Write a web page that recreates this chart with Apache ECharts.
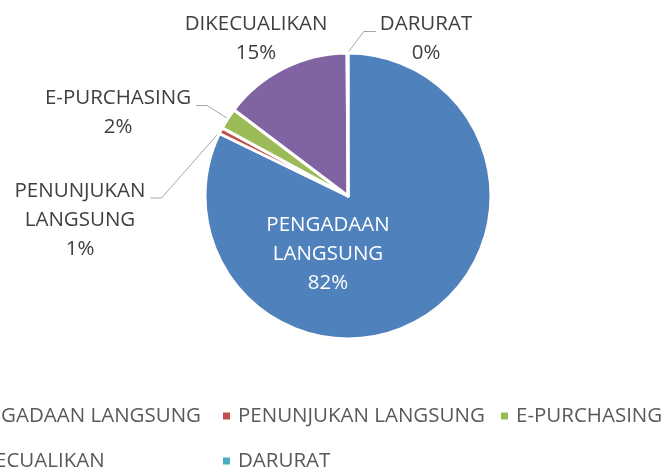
<!DOCTYPE html>
<html><head><meta charset="utf-8">
<script src="https://cdn.jsdelivr.net/npm/echarts@6/dist/echarts.min.js"></script>
<style>html,body{margin:0;padding:0;background:#fff}#c{width:665px;height:468px}</style>
</head><body><div id="c"></div>
<script>
const categories = ['PENGADAAN LANGSUNG', 'PENUNJUKAN LANGSUNG', 'E-PURCHASING', 'DIKECUALIKAN', 'DARURAT'];
const values = [82.2, 0.7, 2.4, 14.6, 0.1];
const colors = ['#4F81BD', '#C0504D', '#9BBB59', '#8064A2', '#4BACC6'];

const FONT = 'Open Sans';
const FS = 20.5;
const LH = 29;
// label block centres and which side the leader line attaches to
const labelPos = [[328, 254], [80, 220], [118, 113], [256, 39], [426, 39]];
const lineSide = [null, 'right', 'right', null, 'left'];

function textWidth(t) {
  const c = document.createElement('canvas').getContext('2d');
  c.font = FS + 'px "' + FONT + '"';
  return c.measureText(t).width;
}

const chart = echarts.init(document.getElementById('c'), null, {renderer: 'canvas'});

const legendCommon = {
  orient: 'horizontal', icon: 'rect', itemWidth: 9, itemHeight: 9, itemGap: 0, padding: 0,
  selectedMode: false,
  textStyle: {fontFamily: FONT, fontSize: FS, color: '#595959', lineHeight: 24, padding: [0, 0, 0, 2]}
};
const col1Left = 200 - textWidth(categories[0]) - 16;
const legends = [
  Object.assign({}, legendCommon, {data: [categories[0]], left: col1Left, top: 404}),
  Object.assign({}, legendCommon, {data: [categories[1]], left: 221, top: 404}),
  Object.assign({}, legendCommon, {data: [categories[2]], left: 499, top: 404}),
  Object.assign({}, legendCommon, {data: [categories[3]], left: col1Left, top: 449}),
  Object.assign({}, legendCommon, {data: [categories[4]], left: 221, top: 449})
];

chart.setOption({
  animation: false,
  color: colors,
  legend: legends,
  series: [{
    type: 'pie',
    center: [348, 196],
    radius: 143,
    startAngle: 90,
    clockwise: true,
    avoidLabelOverlap: false,
    itemStyle: {borderColor: '#fff', borderWidth: 3},
    label: {
      show: true, position: 'outside',
      fontFamily: FONT, fontSize: FS, color: '#404040', lineHeight: LH, align: 'center',
      formatter: p => p.name.replace(' ', '\n') + '\n' + Math.round(p.percent) + '%'
    },
    labelLine: {show: true, length: 10, length2: 12, lineStyle: {color: '#A6A6A6', width: 1}},
    labelLayout: function (params) {
      const i = params.dataIndex;
      const pos = labelPos[i];
      const out = {x: pos[0], y: pos[1], align: 'center', verticalAlign: 'middle'};
      const side = lineSide[i];
      const pts = params.labelLinePoints;
      if (side && pts && pts.length) {
        const w = params.labelRect.width, h = params.labelRect.height;
        const top = pos[1] - h / 2;
        const ey = top + LH / 2 + 7;
        const ex = side === 'right' ? pos[0] + w / 2 + 5 : pos[0] - w / 2 - 4;
        const bx = side === 'right' ? ex + 11 : ex - 12;
        out.labelLinePoints = [pts[0], [bx, ey], [ex, ey]];
      }
      return out;
    },
    data: categories.map((n, i) => {
      if (i === 0) return {name: n, value: values[i], label: {position: 'inside', color: '#FFFFFF'}, labelLine: {show: false}};
      if (i === 3) return {name: n, value: values[i], labelLine: {show: false}};
      return {name: n, value: values[i]};
    })
  }]
});
</script></body></html>
